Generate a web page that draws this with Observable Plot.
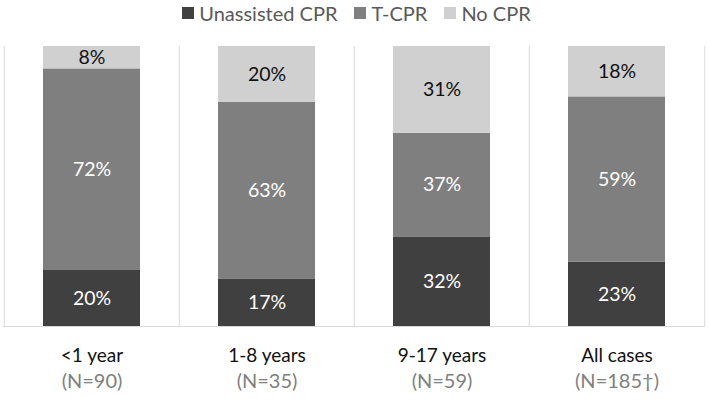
<!DOCTYPE html>
<html>
<head>
<meta charset="utf-8">
<script src="https://cdn.jsdelivr.net/npm/d3@7"></script>
<script src="https://cdn.jsdelivr.net/npm/@observablehq/plot@0.6"></script>
<style>
  body { margin: 0; background: #fff; font-family: Lato, sans-serif; }
  #legend { height: 32px; display: flex; justify-content: center; align-items: center; gap: 17px; font-size: 20px; color: #595959; padding-left: 4px; padding-bottom: 6px; box-sizing: border-box; }
  #legend .item { display: flex; align-items: center; }
  #legend .sw { width: 12px; height: 12px; margin-right: 5px; }
</style>
</head>
<body>
<div id="legend"></div>
<div id="chart"></div>
<script>
const categories = ["<1 year", "1-8 years", "9-17 years", "All cases"];
const nLabels = ["(N=90)", "(N=35)", "(N=59)", "(N=185†)"];
const series = ["Unassisted CPR", "T-CPR", "No CPR"];
const seriesColors = ["#404040", "#7f7f7f", "#d0d0d0"];
const labelColors = ["#ffffff", "#ffffff", "#111111"];
const unassisted = [20, 17, 32, 23];
const tcpr = [72, 63, 37, 59];
const nocpr = [8, 20, 31, 18];

const values = [unassisted, tcpr, nocpr];
const data = [];
series.forEach((s, si) => {
  categories.forEach((c, ci) => {
    data.push({cat: c, series: s, si, value: values[si][ci]});
  });
});

const legend = document.getElementById("legend");
series.forEach((s, i) => {
  const it = document.createElement("div");
  it.className = "item";
  const sw = document.createElement("div");
  sw.className = "sw";
  sw.style.background = seriesColors[i];
  const t = document.createElement("span");
  t.textContent = s;
  it.appendChild(sw); it.appendChild(t);
  legend.appendChild(it);
});

const W = 709, H = 370, mL = 3, mR = 4;
const half = (W - mL - mR) / categories.length / 2;

const chart = Plot.plot({
  width: W,
  height: H,
  marginTop: 14,
  marginBottom: 76,
  marginLeft: mL,
  marginRight: mR,
  style: {fontFamily: "Lato, sans-serif", background: "#fff"},
  x: {domain: categories, padding: 0, axis: null},
  y: {domain: [0, 100], axis: null},
  color: {type: "identity"},
  marks: [
    Plot.ruleX(categories, {x: d => d, dx: -half, y1: 0, y2: 100, stroke: "#d9d9d9", strokeWidth: 1}),
    Plot.ruleX([categories[categories.length - 1]], {x: d => d, dx: half, y1: 0, y2: 100, stroke: "#d9d9d9", strokeWidth: 1}),
    Plot.barY(data, Plot.stackY({x: "cat", y: "value", z: "series", order: null, fill: d => seriesColors[d.si], insetLeft: 39, insetRight: 39})),
    Plot.ruleY([0], {stroke: "#d9d9d9", strokeWidth: 1}),
    Plot.text(data, Plot.stackY({x: "cat", y: "value", z: "series", order: null, text: d => d.value + "%", fill: d => labelColors[d.si], fontSize: 19.5})),
    Plot.text(categories, {x: d => d, frameAnchor: "bottom", dy: 35, text: d => d, fontSize: 19, fill: "#111"}),
    Plot.text(categories, {x: d => d, frameAnchor: "bottom", dy: 61, text: (d, i) => nLabels[i], fontSize: 20, fill: "#808080", letterSpacing: "3px"})
  ]
});
document.getElementById("chart").appendChild(chart);
</script>
</body>
</html>
